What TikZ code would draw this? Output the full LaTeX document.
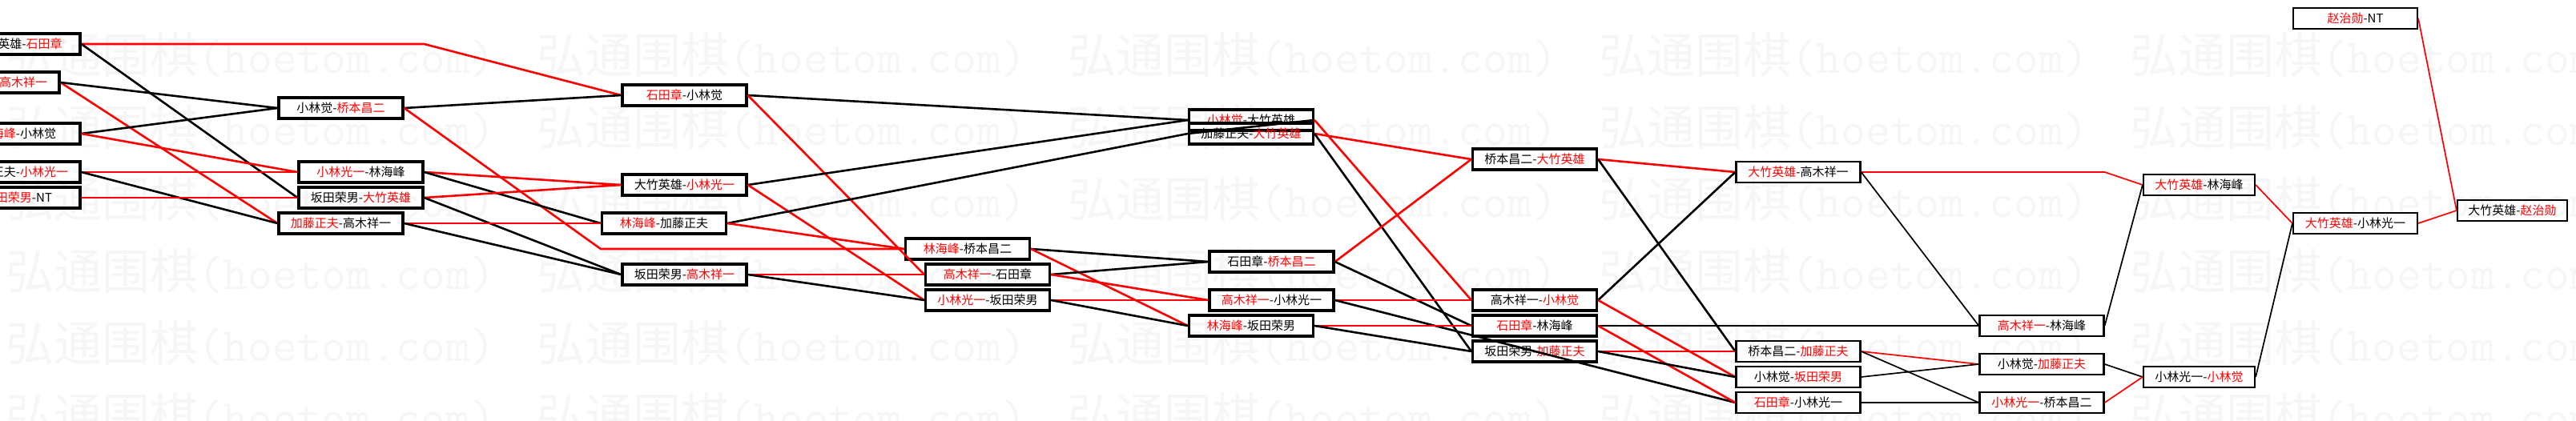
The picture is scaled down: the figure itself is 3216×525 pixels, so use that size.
\documentclass[tikz,border=0pt]{standalone}
\usepackage{fontspec}
\newfontfamily\cjk{Noto Sans CJK SC}
\usepackage{xcolor}
\usepackage{tikz}
\usetikzlibrary{calc}

\newcommand{\redfirst}[2]{\textcolor{red}{#1}-#2}
\newcommand{\redsecond}[2]{#1-\textcolor{red}{#2}}

\begin{document}
\begin{tikzpicture}[x=0.5pt, y=-0.5pt,
    match/.style={rectangle, draw, line width=1.6pt, minimum width=77.5pt, minimum height=13pt, inner sep=0pt, font={\cjk\fontsize{7.5pt}{9pt}\selectfont}},
    matchl/.style={match, line width=1.1pt},
    win/.style={red, line width=1.3pt},
    lose/.style={black, line width=1.3pt},
    winl/.style={win, line width=0.85pt},
    losel/.style={lose, line width=0.85pt},
    watermark/.style={anchor=base west, inner sep=0pt, text=black!3.5, font={\cjk\fontsize{30pt}{30pt}\selectfont}}
]
\useasboundingbox (0,0) rectangle (3216,525);
\clip (0,0) rectangle (3216,525);
\fill[white] (0,0) rectangle (3216,525);

% watermark
\foreach \j in {0,...,5}
  \foreach \k in {0,...,4}
    \node[watermark] (wm-\j-\k) at ({7+663*\k},{91+90*\j}) {弘通围棋{\ttfamily (hoetom.com)}};

% round 0
\node[match] (A) at (22.5,55) {\redsecond{大竹英雄}{石田章}};
\node[match] (B) at (-3.5,103) {\redsecond{桥本昌二}{高木祥一}};
\node[match] (C) at (22.5,167) {\redfirst{林海峰}{小林觉}};
\node[match] (D) at (22.5,215) {\redsecond{加藤正夫}{小林光一}};
\node[match] (E) at (22.5,247) {\redfirst{坂田荣男}{NT}};

% round 1
\node[match] (F) at (425.5,135) {\redsecond{小林觉}{桥本昌二}};
\node[match] (G) at (450.5,215) {\redfirst{小林光一}{林海峰}};
\node[match] (H) at (450.5,247) {\redsecond{坂田荣男}{大竹英雄}};
\node[match] (I) at (425.5,279) {\redfirst{加藤正夫}{高木祥一}};

% round 2
\node[match] (J) at (854.5,119) {\redfirst{石田章}{小林觉}};
\node[match] (K) at (854.5,231) {\redsecond{大竹英雄}{小林光一}};
\node[match] (L) at (829,279) {\redfirst{林海峰}{加藤正夫}};
\node[match] (M) at (854.5,343) {\redsecond{坂田荣男}{高木祥一}};

% round 3
\node[match] (O) at (1208,311) {\redfirst{林海峰}{桥本昌二}};
\node[match] (P) at (1233,343) {\redfirst{高木祥一}{石田章}};
\node[match] (Q) at (1233,375) {\redfirst{小林光一}{坂田荣男}};

% round 4
\node[match] (N1) at (1562,150) {\redfirst{小林觉}{大竹英雄}};
\node[match] (N2) at (1562,167) {\redsecond{加藤正夫}{大竹英雄}};
\node[match] (R) at (1587.5,327) {\redsecond{石田章}{桥本昌二}};
\node[match] (S) at (1587.5,375) {\redfirst{高木祥一}{小林光一}};
\node[match] (T) at (1562,407) {\redfirst{林海峰}{坂田荣男}};

% round 5
\node[match] (U) at (1916,199) {\redsecond{桥本昌二}{大竹英雄}};
\node[match] (V) at (1916,375) {\redsecond{高木祥一}{小林觉}};
\node[match] (W) at (1916,407) {\redfirst{石田章}{林海峰}};
\node[match] (X) at (1916,439) {\redsecond{坂田荣男}{加藤正夫}};

% round 6
\node[matchl] (Y) at (2245,215) {\redfirst{大竹英雄}{高木祥一}};
\node[matchl] (Z) at (2245,439) {\redsecond{桥本昌二}{加藤正夫}};
\node[matchl] (AA) at (2245,471) {\redsecond{小林觉}{坂田荣男}};
\node[matchl] (AB) at (2245,503) {\redfirst{石田章}{小林光一}};

% round 7
\node[matchl] (AC) at (2549,407) {\redfirst{高木祥一}{林海峰}};
\node[matchl] (AD) at (2549,455) {\redsecond{小林觉}{加藤正夫}};
\node[matchl] (AE) at (2549,503) {\redfirst{小林光一}{桥本昌二}};

% round 8 to final
\node[matchl, minimum width=69.5pt] (AF) at (2745.5,231) {\redfirst{大竹英雄}{林海峰}};
\node[matchl, minimum width=69.5pt] (AG) at (2745.5,471) {\redsecond{小林光一}{小林觉}};
\node[matchl] (AH) at (2940.5,279) {\redfirst{大竹英雄}{小林光一}};
\node[matchl] (AI) at (2940.5,23) {\redfirst{赵治勋}{NT}};
\node[matchl, minimum width=68.5pt] (AJ) at (3136.5,263) {\redsecond{大竹英雄}{赵治勋}};

% round 0 -> 1
\draw[win] (A.east) -- (A.east -| G.east) -- (J.west);
\draw[lose] (A.east) -- (H.west);
\draw[win] (B.east) -- (I.west);
\draw[lose] (B.east) -- (F.west);
\draw[lose] (C.east) -- (F.west);
\draw[win] (C.east) -- (G.west);
\draw[win] (D.east) -- (G.west);
\draw[lose] (D.east) -- (I.west);
\draw[win] (E.east) -- (H.west);

% round 1 -> 2
\draw[lose] (F.east) -- (J.west);
\draw[win] (F.east) -- (O.west -| L.west) -- (O.west);
\draw[win] (G.east) -- (K.west);
\draw[lose] (G.east) -- (L.west);
\draw[win] (H.east) -- (K.west);
\draw[lose] (H.east) -- (M.west);
\draw[win] (I.east) -- (L.west);
\draw[lose] (I.east) -- (M.west);

% round 2 -> 3
\draw[lose] (J.east) -- (N1.west);
\draw[win] (J.east) -- (P.west);
\draw[lose] (K.east) -- (N1.west);
\draw[win] (K.east) -- (Q.west);
\draw[lose] (L.east) -- (N2.west);
\draw[win] (L.east) -- (O.west);
\draw[win] (M.east) -- (P.west);
\draw[lose] (M.east) -- (Q.west);

% round 3 -> 4
\draw[lose] (N1.east) -- (N2.west);
\draw[win] (N1.east) -- (V.west);
\draw[win] (N2.east) -- (U.west);
\draw[lose] (N2.east) -- (X.west);
\draw[lose] (O.east) -- (R.west);
\draw[win] (O.east) -- (T.west);
\draw[lose] (P.east) -- (R.west);
\draw[win] (P.east) -- (S.west);
\draw[win] (Q.east) -- (S.west);
\draw[lose] (Q.east) -- (T.west);

% round 4 -> 5
\draw[win] (R.east) -- (U.west);
\draw[lose] (R.east) -- (W.west);
\draw[win] (S.east) -- (V.west);
\draw[lose] (S.east) -- (AB.west);
\draw[win] (T.east) -- (W.west);
\draw[lose] (T.east) -- (X.west);

% round 5 -> 6
\draw[win] (U.east) -- (Y.west);
\draw[lose] (U.east) -- (Z.west);
\draw[lose] (V.east) -- (Y.west);
\draw[win] (V.east) -- (AA.west);
\draw[lose] (W.east) -- (AC.west);
\draw[win] (W.east) -- (AB.west);
\draw[win] (X.east) -- (Z.west);
\draw[lose] (X.east) -- (AA.west);

% round 6 -> final
\draw[winl] (Y.east) -- (Y.east -| AC.east) -- (AF.west);
\draw[losel] (Y.east) -- (AC.west);
\draw[winl] (Z.east) -- (AD.west);
\draw[losel] (Z.east) -- (AE.west);
\draw[losel] (AA.east) -- (AD.west);
\draw[losel] (AB.east) -- (AE.west);
\draw[losel] (AC.east) -- (AF.west);
\draw[losel] (AD.east) -- (AG.west);
\draw[winl] (AE.east) -- (AG.west);
\draw[winl] (AF.east) -- (AH.west);
\draw[losel] (AG.east) -- (AH.west);
\draw[winl] (AH.east) -- (AJ.west);
\draw[winl] (AI.east) -- (AJ.west);
\end{tikzpicture}
\end{document}
